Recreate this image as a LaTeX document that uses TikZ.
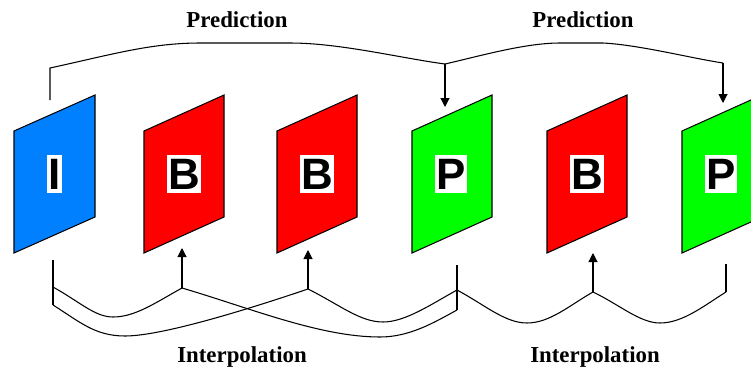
\documentclass[tikz,border=0pt]{standalone}
\usepackage{fontspec}
\setmainfont{Liberation Serif}
\newfontfamily\lettfont{Liberation Sans}
\usepackage{tikz}
\usetikzlibrary{arrows.meta,positioning}
\definecolor{IBlue}{RGB}{0,128,255}
\definecolor{BRed}{RGB}{255,0,0}
\definecolor{PGreen}{RGB}{0,255,0}
\tikzset{
  iframe/.style={draw=black,fill=IBlue,line width=0.6pt},
  bframe/.style={draw=black,fill=BRed,line width=0.6pt},
  pframe/.style={draw=black,fill=PGreen,line width=0.6pt},
  letter/.style={fill=white,inner xsep=0.02cm,inner ysep=0pt,minimum height=0.76cm,font=\lettfont\bfseries\fontsize{25}{25}\selectfont},
  link/.style={draw=black,line width=0.6pt},
  tipline/.style={link,-{Triangle[length=0.18cm,width=0.18cm]}},
  caption/.style={anchor=base,font=\bfseries\fontsize{13}{15}\selectfont}
}

\begin{document}
\begin{tikzpicture}[x=0.02cm,y=-0.02cm]
\useasboundingbox (0,0) rectangle (751,369);

% frames
\draw[iframe] (14,131) -- (95,95) -- (95,217) -- (14,253) -- cycle;
\node[letter] (fI) at (54.5,174) {I};
\draw[bframe] (144,131) -- (224,95) -- (224,217) -- (144,253) -- cycle;
\node[letter] (fB1) at (184,174) {B};
\draw[bframe] (277,131) -- (357,95) -- (357,217) -- (277,253) -- cycle;
\node[letter] (fB2) at (317,174) {B};
\draw[pframe] (412,131) -- (492,95) -- (492,217) -- (412,253) -- cycle;
\node[letter] (fP1) at (451,174) {P};
\draw[bframe] (547,131) -- (627,95) -- (627,217) -- (547,253) -- cycle;
\node[letter] (fB3) at (587,174) {B};
\draw[pframe] (682,131) -- (762,95) -- (762,217) -- (682,253) -- cycle;
\node[letter] (fP2) at (721,174) {P};

% prediction
\coordinate (iT) at (50,100);
\coordinate (iTk) at (50,68);
\coordinate (p1T) at (445,64);
\coordinate (p1tip) at (445,107);
\coordinate (p2T) at (723,63);
\coordinate (p2tip) at (723,103);
\draw[link] (iT) -- (iTk) .. controls (110,55) and (150,43) .. (200,43) -- (290,43)
  .. controls (340,43) and (400,58) .. (p1T);
\draw[link] (p1T) .. controls (480,56) and (525,43) .. (560,43) -- (603,43)
  .. controls (640,45) and (690,58) .. (p2T);
\draw[tipline] (p1T) -- (p1tip);
\draw[tipline] (p2T) -- (p2tip);

% interpolation
\coordinate (iB) at (53,260);
\coordinate (iB1) at (53,287);
\coordinate (iB2) at (53,305);
\coordinate (pB) at (457,265);
\coordinate (pB1) at (457,290);
\coordinate (pB2) at (457,310);
\coordinate (qB) at (726,264);
\coordinate (qB1) at (726,292);
\coordinate (b1J) at (182,288);
\coordinate (b1tip) at (182,248);
\coordinate (b2J) at (308,289);
\coordinate (b2tip) at (308,250);
\coordinate (b3J) at (593,292);
\coordinate (b3tip) at (593,253);
\draw[link] (iB) -- (iB2);
\draw[link] (pB) -- (pB2);
\draw[link] (qB) -- (qB1);
\draw[link] (iB1) .. controls (80,302) and (95,317) .. (113,317)
  .. controls (135,317) and (155,303) .. (b1J);
\draw[link] (iB2) .. controls (80,322) and (95,336) .. (125,336)
  .. controls (160,336) and (240,312) .. (b2J);
\draw[link] (b1J) .. controls (250,308) and (320,337) .. (380,337)
  .. controls (410,337) and (435,322) .. (pB2);
\draw[link] (b2J) .. controls (340,305) and (360,322) .. (383,322)
  .. controls (405,322) and (430,305) .. (pB1);
\draw[link] (pB1) .. controls (485,305) and (505,323) .. (527,323)
  .. controls (550,323) and (570,305) .. (b3J);
\draw[link] (b3J) .. controls (620,305) and (640,323) .. (660,323)
  .. controls (683,323) and (705,305) .. (qB1);
\draw[tipline] (b1J) -- (b1tip);
\draw[tipline] (b2J) -- (b2tip);
\draw[tipline] (b3J) -- (b3tip);

% captions
\node[caption] (pred1) at (237,27) {Prediction};
\node[caption] (pred2) at (583,27) {Prediction};
\node[caption] (intp1) at (242,362) {Interpolation};
\node[caption] (intp2) at (595,362) {Interpolation};
\end{tikzpicture}
\end{document}
